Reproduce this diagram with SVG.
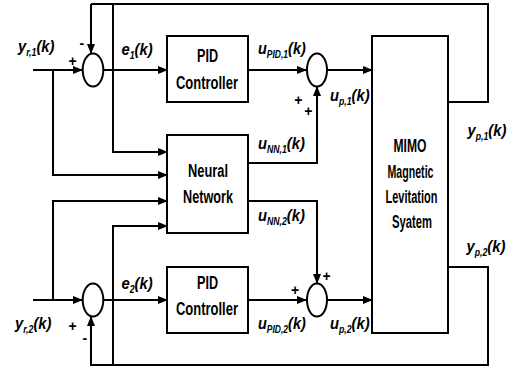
<svg xmlns="http://www.w3.org/2000/svg" width="514" height="370" viewBox="0 0 514 370">
<defs>
<marker id="ah" markerWidth="10" markerHeight="8" refX="9" refY="4" orient="auto" markerUnits="userSpaceOnUse">
<path d="M0,0 L10,4 L0,8 Z" fill="#000"/>
</marker>
<style>
.ln{fill:none;stroke:#000;stroke-width:2}
.bx{fill:#fff;stroke:#000;stroke-width:2}
.bt{font-family:"Liberation Sans",Arial,sans-serif;font-weight:bold;font-size:17.5px;text-anchor:middle}
.lb{font-family:"Liberation Sans",Arial,sans-serif;font-weight:bold;font-style:italic;font-size:17px}
.sb{font-size:10px}
.pm{font-family:"Liberation Sans",Arial,sans-serif;font-weight:bold;font-size:14px}
</style>
</defs>
<rect width="514" height="370" fill="#fff"/>
<g id="connectors">
<path class="ln" d="M91,4 H488 V102 H448"/>
<path class="ln" d="M91,4 V53" marker-end="url(#ah)"/>
<path class="ln" d="M113,4 V152 H167" marker-end="url(#ah)"/>
<path class="ln" d="M33,70 H82" marker-end="url(#ah)"/>
<path class="ln" d="M53,70 V175 H167" marker-end="url(#ah)"/>
<path class="ln" d="M103,70 H167" marker-end="url(#ah)"/>
<path class="ln" d="M248,70 H306" marker-end="url(#ah)"/>
<path class="ln" d="M327,70 H372" marker-end="url(#ah)"/>
<path class="ln" d="M248,163 H317 V87" marker-end="url(#ah)"/>
<path class="ln" d="M53,300 V201 H167" marker-end="url(#ah)"/>
<path class="ln" d="M33,300 H82" marker-end="url(#ah)"/>
<path class="ln" d="M103,300 H167" marker-end="url(#ah)"/>
<path class="ln" d="M448,267 H488 V365 H91 V317" marker-end="url(#ah)"/>
<path class="ln" d="M113,365 V226 H167" marker-end="url(#ah)"/>
<path class="ln" d="M248,201 H317 V283" marker-end="url(#ah)"/>
<path class="ln" d="M248,300 H306" marker-end="url(#ah)"/>
<path class="ln" d="M327,300 H372" marker-end="url(#ah)"/>
</g>
<g id="sum1"><ellipse class="bx" cx="93" cy="70" rx="10.3" ry="16.5"/></g>
<g id="sum2"><ellipse class="bx" cx="317" cy="70" rx="10" ry="16.5"/></g>
<g id="sum3"><ellipse class="bx" cx="93" cy="300" rx="10.3" ry="16.5"/></g>
<g id="sum4"><ellipse class="bx" cx="317" cy="300" rx="10" ry="16.5"/></g>
<g id="pid1"><rect class="bx" x="167" y="36" width="81" height="66"/>
<text class="bt" x="207.5" y="62" textLength="21" lengthAdjust="spacingAndGlyphs">PID</text><text class="bt" x="207" y="88.5" textLength="62" lengthAdjust="spacingAndGlyphs">Controller</text></g>
<g id="nn"><rect class="bx" x="167" y="135" width="81" height="98"/>
<text class="bt" x="208" y="177" textLength="40" lengthAdjust="spacingAndGlyphs">Neural</text><text class="bt" x="208" y="203" textLength="50" lengthAdjust="spacingAndGlyphs">Network</text></g>
<g id="pid2"><rect class="bx" x="167" y="267" width="81" height="66"/>
<text class="bt" x="207.5" y="288.5" textLength="21" lengthAdjust="spacingAndGlyphs">PID</text><text class="bt" x="207" y="315" textLength="62" lengthAdjust="spacingAndGlyphs">Controller</text></g>
<g id="mimo"><rect class="bx" x="372" y="36" width="76" height="297"/>
<text class="bt" x="410" y="152" textLength="33" lengthAdjust="spacingAndGlyphs">MIMO</text><text class="bt" x="410.5" y="177.5" textLength="46" lengthAdjust="spacingAndGlyphs">Magnetic</text><text class="bt" x="411.5" y="202.5" textLength="52" lengthAdjust="spacingAndGlyphs">Levitation</text><text class="bt" x="412" y="227.5" textLength="40" lengthAdjust="spacingAndGlyphs">Syatem</text></g>
<g id="labels">
<text class="lb" transform="translate(18,51.5) scale(0.87,1)">y<tspan class="sb" dy="4">r,1</tspan><tspan dy="-4">(k)</tspan></text>
<text class="lb" transform="translate(121.5,55) scale(0.87,1)">e<tspan class="sb" dy="4">1</tspan><tspan dy="-4">(k)</tspan></text>
<text class="lb" transform="translate(258,54) scale(0.85,1)">u<tspan class="sb" dy="4">PID,1</tspan><tspan dy="-4">(k)</tspan></text>
<text class="lb" transform="translate(330,101) scale(0.87,1)">u<tspan class="sb" dy="4">p,1</tspan><tspan dy="-4">(k)</tspan></text>
<text class="lb" transform="translate(258,149) scale(0.87,1)">u<tspan class="sb" dy="4">NN,1</tspan><tspan dy="-4">(k)</tspan></text>
<text class="lb" transform="translate(467.5,135.5) scale(0.87,1)">y<tspan class="sb" dy="4">p,1</tspan><tspan dy="-4">(k)</tspan></text>
<text class="lb" transform="translate(258,220.5) scale(0.87,1)">u<tspan class="sb" dy="4">NN,2</tspan><tspan dy="-4">(k)</tspan></text>
<text class="lb" transform="translate(466.5,252) scale(0.87,1)">y<tspan class="sb" dy="4">p,2</tspan><tspan dy="-4">(k)</tspan></text>
<text class="lb" transform="translate(121.5,289) scale(0.87,1)">e<tspan class="sb" dy="4">2</tspan><tspan dy="-4">(k)</tspan></text>
<text class="lb" transform="translate(258,328.5) scale(0.85,1)">u<tspan class="sb" dy="4">PID,2</tspan><tspan dy="-4">(k)</tspan></text>
<text class="lb" transform="translate(330,328.5) scale(0.87,1)">u<tspan class="sb" dy="4">p,2</tspan><tspan dy="-4">(k)</tspan></text>
<text class="lb" transform="translate(15,328.5) scale(0.87,1)">y<tspan class="sb" dy="4">r,2</tspan><tspan dy="-4">(k)</tspan></text>
<text class="pm" x="68.6" y="65.6">+</text>
<text class="pm" x="79.4" y="48">-</text>
<text class="pm" x="294.2" y="104.6">+</text>
<text class="pm" x="304.2" y="116.3">+</text>
<text class="pm" x="322.6" y="281.3">+</text>
<text class="pm" x="290.9" y="294.6">+</text>
<text class="pm" x="68.6" y="331.3">+</text>
<text class="pm" x="82.6" y="343">-</text>
</g>
</svg>
